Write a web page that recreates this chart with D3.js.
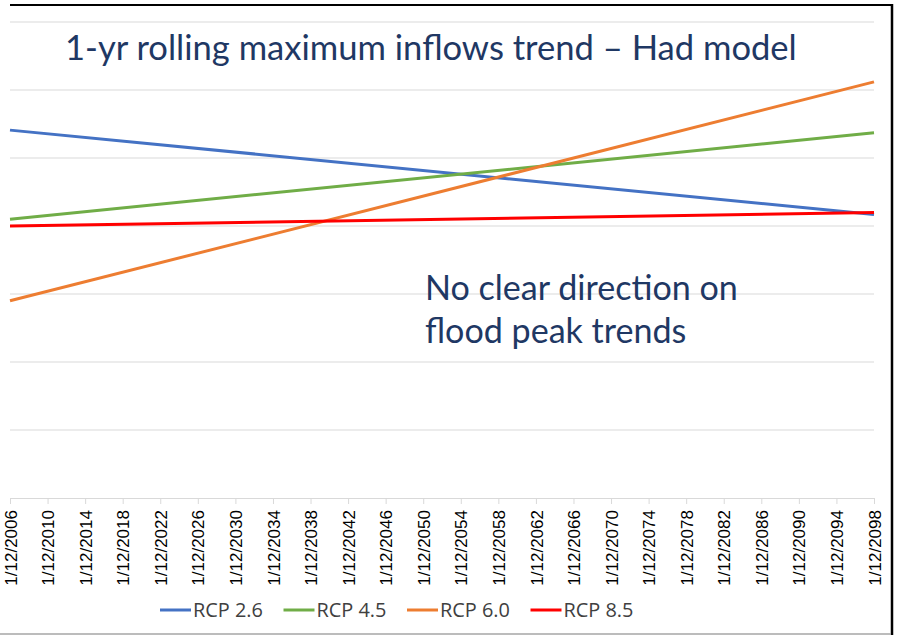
<!doctype html>
<html lang="en">
<head>
  <meta charset="utf-8">
  <title>1-yr rolling maximum inflows trend - Had model</title>
  <style>
    body { margin: 0; background: #fff; }
    svg { display: block; }
    .grid line { stroke: #d9d9d9; stroke-width: 1; }
    .xaxis path, .xaxis line { stroke: #d9d9d9; }
    .xaxis text { font-family: "Liberation Sans", Arial, sans-serif; font-size: 17px; fill: #000; }
    .big { font-family: Lato, "Open Sans", sans-serif; fill: #1f3864; }
    .legend text { font-family: "Open Sans", Lato, sans-serif; font-size: 17px; fill: #404040; }
  </style>
</head>
<body>
  <svg width="897" height="635"></svg>
  <script src="https://cdn.jsdelivr.net/npm/d3@7"></script>
  <script>
    // series names and colours
    var seriesNames = ["RCP 2.6", "RCP 4.5", "RCP 6.0", "RCP 8.5"];
    var seriesColors = ["#4472c4", "#70ad47", "#ed7d31", "#ff0000"];

    // linear trend lines: value at first and last date (no y labels shown)
    var trendYears = [2006, 2098];
    var rcp26 = [5.41, 4.17];
    var rcp45 = [4.10, 5.37];
    var rcp60 = [2.90, 6.12];
    var rcp85 = [4.00, 4.20];

    // x tick years, labelled 1/12/yyyy
    var tickYears = [2006, 2010, 2014, 2018, 2022, 2026, 2030, 2034, 2038, 2042, 2046, 2050,
      2054, 2058, 2062, 2066, 2070, 2074, 2078, 2082, 2086, 2090, 2094, 2098];
    var gridValues = [0, 1, 2, 3, 4, 5, 6, 7];

    var svg = d3.select("svg");
    var plotLeft = 10, plotRight = 874, plotTop = 22, plotBottom = 498;

    var x = d3.scaleLinear().domain([2006, 2098]).range([plotLeft, plotRight]);
    var y = d3.scaleLinear().domain([0, 7]).range([plotBottom, plotTop]);

    // gridlines
    svg.append("g").attr("class", "grid")
      .selectAll("line")
      .data(gridValues.slice(1))
      .enter().append("line")
      .attr("x1", plotLeft).attr("x2", plotRight)
      .attr("y1", function (d) { return y(d); })
      .attr("y2", function (d) { return y(d); });

    // x axis
    var xAxis = svg.append("g")
      .attr("class", "xaxis")
      .attr("transform", "translate(0," + plotBottom + ")")
      .call(d3.axisBottom(x).tickValues(tickYears).tickSize(6).tickSizeOuter(0)
        .tickFormat(function (d) { return "1/12/" + d; }));
    xAxis.selectAll("text")
      .attr("transform", "rotate(-90)")
      .attr("text-anchor", "end")
      .attr("x", -12).attr("y", 0)
      .attr("dy", "0.36em");

    // trend lines
    var allSeries = [rcp26, rcp45, rcp60, rcp85];
    var line = d3.line()
      .x(function (d, i) { return x(trendYears[i]); })
      .y(function (d) { return y(d); });

    svg.append("g").selectAll("path")
      .data(allSeries)
      .enter().append("path")
      .attr("fill", "none")
      .attr("stroke", function (d, i) { return seriesColors[i]; })
      .attr("stroke-width", 3)
      .attr("d", line);

    // fit a text element to a width by adjusting font size
    function fit(t, w, size) {
      t.style("font-size", size + "px");
      var len = t.node().getComputedTextLength();
      t.style("font-size", (size * w / len) + "px");
    }

    var title = svg.append("text").attr("class", "big")
      .attr("x", 65).attr("y", 60)
      .text("1-yr rolling maximum inflows trend \u2013 Had model");
    fit(title, 732, 32);

    var note1 = svg.append("text").attr("class", "big")
      .attr("x", 425).attr("y", 300)
      .text("No clear direction on");
    fit(note1, 313, 32);
    var note2 = svg.append("text").attr("class", "big")
      .attr("x", 425).attr("y", 343)
      .text("flood peak trends");
    note2.style("font-size", note1.style("font-size"));

    // legend
    var legend = svg.append("g").attr("class", "legend")
      .selectAll("g")
      .data(seriesNames)
      .enter().append("g")
      .attr("transform", function (d, i) { return "translate(" + (160 + i * 123.5) + ",610)"; });
    legend.append("line")
      .attr("x1", 0).attr("x2", 31)
      .attr("stroke", function (d, i) { return seriesColors[i]; })
      .attr("stroke-width", 3);
    legend.append("text")
      .attr("x", 33).attr("dy", "0.35em")
      .text(function (d) { return d; })
      .each(function () { fit(d3.select(this), 70, 17); });

    // frame
    svg.append("line").attr("x1", 10).attr("x2", 893).attr("y1", 5).attr("y2", 5)
      .attr("stroke", "#000").attr("stroke-width", 2);
    svg.append("line").attr("x1", 892).attr("x2", 892).attr("y1", 4).attr("y2", 635)
      .attr("stroke", "#000").attr("stroke-width", 2.5);
    svg.append("line").attr("x1", 0).attr("x2", 891).attr("y1", 634).attr("y2", 634)
      .attr("stroke", "#a6a6a6").attr("stroke-width", 1.5);
  </script>
</body>
</html>
